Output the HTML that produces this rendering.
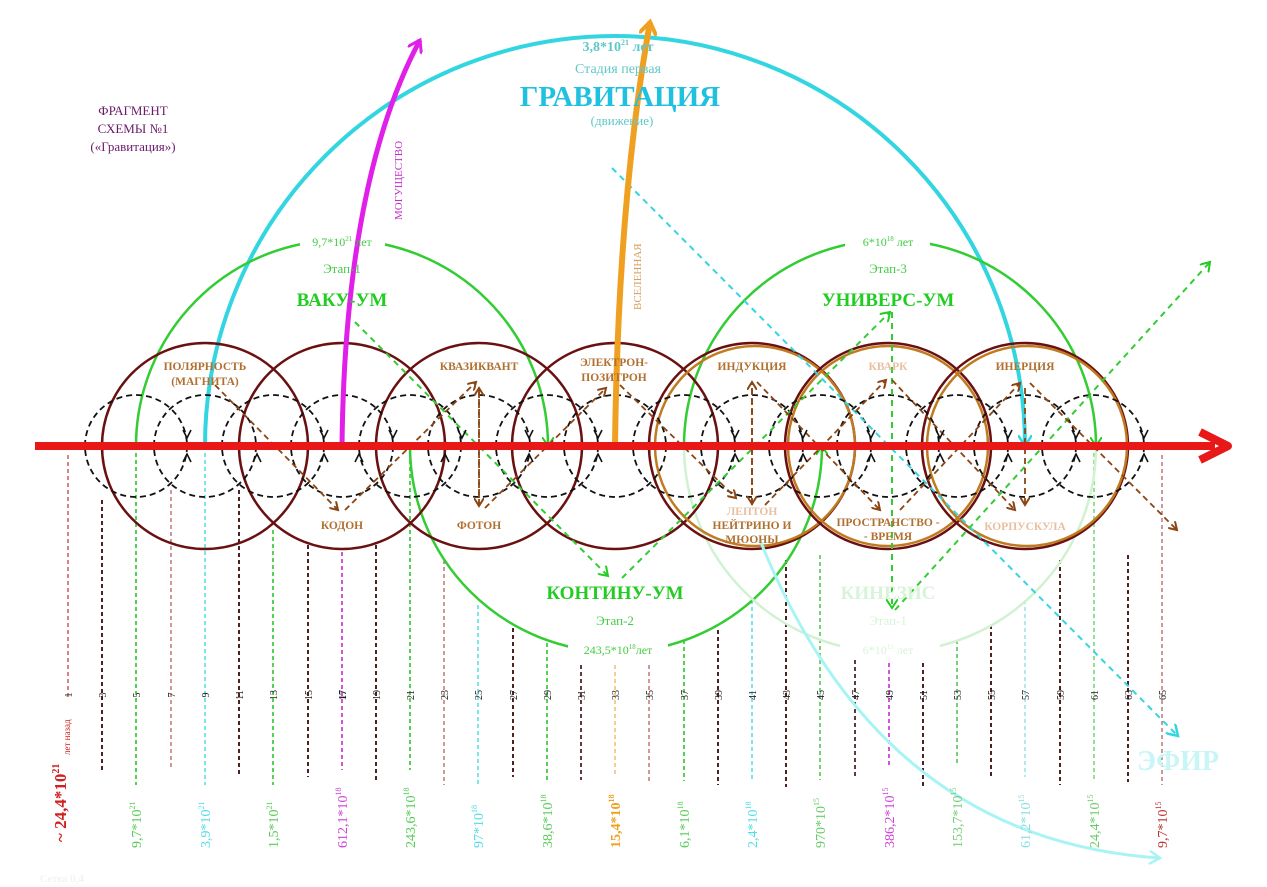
<!DOCTYPE html>
<html><head><meta charset="utf-8">
<style>
html,body{margin:0;padding:0;background:#fff;}
svg{display:block;font-family:"Liberation Serif",serif;}
</style></head>
<body>
<svg width="1267" height="887" viewBox="0 0 1267 887" xmlns="http://www.w3.org/2000/svg">
<defs>
<marker id="ab" markerWidth="10" markerHeight="10" refX="8" refY="5" orient="auto" markerUnits="userSpaceOnUse"><path d="M0,0 L8,5 L0,10" fill="none" stroke="#8b4513" stroke-width="2"/></marker>
<marker id="ag" markerWidth="12" markerHeight="12" refX="9" refY="6" orient="auto" markerUnits="userSpaceOnUse"><path d="M0,0 L9,6 L0,12" fill="none" stroke="#22cc22" stroke-width="2"/></marker>
<marker id="ac" markerWidth="14" markerHeight="14" refX="11" refY="7" orient="auto" markerUnits="userSpaceOnUse"><path d="M0,0 L11,7 L0,14" fill="none" stroke="#33d6e0" stroke-width="2.5"/></marker>
<marker id="apc" markerWidth="14" markerHeight="14" refX="11" refY="7" orient="auto" markerUnits="userSpaceOnUse"><path d="M0,0 L11,7 L0,14" fill="none" stroke="#a8f4f4" stroke-width="2.5"/></marker>
<marker id="am" markerWidth="16" markerHeight="16" refX="12" refY="8" orient="auto" markerUnits="userSpaceOnUse"><path d="M0,0 L12,8 L0,16" fill="none" stroke="#e020e8" stroke-width="3"/></marker>
<marker id="ao" markerWidth="18" markerHeight="18" refX="13" refY="9" orient="auto" markerUnits="userSpaceOnUse"><path d="M0,0 L13,9 L0,18" fill="none" stroke="#f0a020" stroke-width="4"/></marker>
</defs>

<g stroke-dasharray="4,3" fill="none">
<line x1="68" y1="455" x2="68" y2="700" stroke="#c03030" stroke-width="1.2"/>
<line x1="102" y1="500" x2="102" y2="772" stroke="#3a0a0a" stroke-width="1.8"/>
<line x1="136" y1="446" x2="136" y2="785" stroke="#44cc44" stroke-width="1.8"/>
<line x1="171" y1="490" x2="171" y2="770" stroke="#a03030" stroke-width="1"/>
<line x1="205" y1="446" x2="205" y2="785" stroke="#4fdde6" stroke-width="1.5"/>
<line x1="239" y1="490" x2="239" y2="776" stroke="#3a0a0a" stroke-width="1.8"/>
<line x1="273" y1="530" x2="273" y2="785" stroke="#44cc44" stroke-width="1.8"/>
<line x1="308" y1="545" x2="308" y2="777" stroke="#3a0a0a" stroke-width="1.8"/>
<line x1="342" y1="552" x2="342" y2="770" stroke="#d040d8" stroke-width="1.8"/>
<line x1="376" y1="545" x2="376" y2="783" stroke="#3a0a0a" stroke-width="1.8"/>
<line x1="410" y1="446" x2="410" y2="770" stroke="#44cc44" stroke-width="1.8"/>
<line x1="444" y1="560" x2="444" y2="785" stroke="#a03030" stroke-width="1"/>
<line x1="478" y1="605" x2="478" y2="785" stroke="#4fdde6" stroke-width="1.5"/>
<line x1="513" y1="628" x2="513" y2="777" stroke="#3a0a0a" stroke-width="1.8"/>
<line x1="547" y1="643" x2="547" y2="780" stroke="#44cc44" stroke-width="1.8"/>
<line x1="581" y1="665" x2="581" y2="780" stroke="#3a0a0a" stroke-width="1.6"/>
<line x1="615" y1="665" x2="615" y2="776" stroke="#e8b040" stroke-width="1.2"/>
<line x1="649" y1="665" x2="649" y2="784" stroke="#a03030" stroke-width="1"/>
<line x1="684" y1="640" x2="684" y2="781" stroke="#44cc44" stroke-width="1.8"/>
<line x1="718" y1="630" x2="718" y2="785" stroke="#3a0a0a" stroke-width="1.8"/>
<line x1="752" y1="600" x2="752" y2="780" stroke="#4fdde6" stroke-width="1.5"/>
<line x1="786" y1="560" x2="786" y2="787" stroke="#3a0a0a" stroke-width="1.8"/>
<line x1="820" y1="555" x2="820" y2="780" stroke="#66cc66" stroke-width="1.8"/>
<line x1="855" y1="660" x2="855" y2="777" stroke="#3a0a0a" stroke-width="1.6"/>
<line x1="889" y1="663" x2="889" y2="767" stroke="#d040d8" stroke-width="1.8"/>
<line x1="923" y1="663" x2="923" y2="787" stroke="#3a0a0a" stroke-width="1.8"/>
<line x1="957" y1="640" x2="957" y2="766" stroke="#66cc66" stroke-width="1.8"/>
<line x1="991" y1="625" x2="991" y2="777" stroke="#3a0a0a" stroke-width="1.8"/>
<line x1="1025" y1="600" x2="1025" y2="777" stroke="#88dde0" stroke-width="1.3"/>
<line x1="1060" y1="560" x2="1060" y2="785" stroke="#3a0a0a" stroke-width="1.8"/>
<line x1="1094" y1="446" x2="1094" y2="780" stroke="#88dd88" stroke-width="1.8"/>
<line x1="1128" y1="555" x2="1128" y2="782" stroke="#3a0a0a" stroke-width="1.8"/>
<line x1="1162" y1="455" x2="1162" y2="785" stroke="#a03030" stroke-width="1"/>
</g>

<path d="M205,446 A410,410 0 0 1 1025,446" fill="none" stroke="#33d6e0" stroke-width="4" marker-end="url(#ac)"/>

<path d="M136,446 A206,206 0 0 1 548,446" fill="none" stroke="#33cc33" stroke-width="2.5" marker-end="url(#ag)"/>
<path d="M410,446 A206,206 0 0 0 822,446" fill="none" stroke="#33cc33" stroke-width="2.5" marker-end="url(#ag)"/>
<path d="M684,446 A206,206 0 0 1 1096,446" fill="none" stroke="#33cc33" stroke-width="2.5" marker-end="url(#ag)"/>
<path d="M684,446 A206,206 0 0 0 1096,446" fill="none" stroke="#d0f2d0" stroke-width="2.5"/>
<rect x="300" y="228" width="85" height="20" fill="#fff"/>
<rect x="845" y="228" width="85" height="20" fill="#fff"/>
<rect x="568" y="640" width="100" height="20" fill="#fff"/>
<rect x="840" y="640" width="100" height="20" fill="#fff"/>

<g fill="none" stroke-width="2.5">
<circle cx="205" cy="446" r="103" stroke="#6b1010"/>
<circle cx="342" cy="446" r="103" stroke="#6b1010"/>
<circle cx="479" cy="446" r="103" stroke="#6b1010"/>
<circle cx="615" cy="446" r="103" stroke="#6b1010"/>
<circle cx="752" cy="446" r="103" stroke="#6b1010"/>
<circle cx="755" cy="446" r="100" stroke="#c07a20"/>
<circle cx="888" cy="446" r="103" stroke="#6b1010"/>
<circle cx="888" cy="446" r="100" stroke="#c07a20"/>
<circle cx="1025" cy="446" r="103" stroke="#6b1010"/>
<circle cx="1027" cy="446" r="100" stroke="#c07a20"/>
</g>

<g fill="none" stroke="#111" stroke-width="1.8" stroke-dasharray="6,4">
<circle cx="136" cy="446" r="51"/><circle cx="205" cy="446" r="51"/><circle cx="273" cy="446" r="51"/>
<circle cx="342" cy="446" r="51"/><circle cx="410" cy="446" r="51"/><circle cx="479" cy="446" r="51"/>
<circle cx="547" cy="446" r="51"/><circle cx="615" cy="446" r="51"/><circle cx="684" cy="446" r="51"/>
<circle cx="752" cy="446" r="51"/><circle cx="820" cy="446" r="51"/><circle cx="888" cy="446" r="51"/>
<circle cx="957" cy="446" r="51"/><circle cx="1025" cy="446" r="51"/><circle cx="1093" cy="446" r="51"/>
</g>

<g fill="none" stroke-width="2" stroke-dasharray="6,5">
<line x1="612" y1="168" x2="1178" y2="736" stroke="#33d6e0" marker-end="url(#ac)"/>
<line x1="355" y1="322" x2="608" y2="576" stroke="#33cc33" marker-end="url(#ag)"/>
<line x1="622" y1="578" x2="890" y2="312" stroke="#33cc33" marker-end="url(#ag)"/>
<line x1="892" y1="312" x2="892" y2="608" stroke="#33cc33" marker-end="url(#ag)"/>
<line x1="895" y1="610" x2="1210" y2="262" stroke="#33cc33" marker-end="url(#ag)"/>
</g>
<g fill="none" stroke="#8b4513" stroke-width="1.8" stroke-dasharray="6,4">
<line x1="215" y1="385" x2="338" y2="510" marker-end="url(#ab)"/>
<line x1="345" y1="510" x2="476" y2="382" marker-end="url(#ab)"/>
<line x1="479" y1="392" x2="479" y2="506" marker-end="url(#ab)"/>
<line x1="479" y1="505" x2="479" y2="388" marker-end="url(#ab)"/>
<line x1="485" y1="508" x2="606" y2="388" marker-end="url(#ab)"/>
<line x1="620" y1="385" x2="736" y2="498" marker-end="url(#ab)"/>
<line x1="752" y1="388" x2="752" y2="504" marker-end="url(#ab)"/>
<line x1="752" y1="505" x2="752" y2="382" marker-end="url(#ab)"/>
<line x1="757" y1="382" x2="880" y2="510" marker-end="url(#ab)"/>
<line x1="765" y1="505" x2="886" y2="380" marker-end="url(#ab)"/>
<line x1="892" y1="380" x2="1015" y2="510" marker-end="url(#ab)"/>
<line x1="900" y1="510" x2="1020" y2="383" marker-end="url(#ab)"/>
<line x1="1025" y1="388" x2="1025" y2="505" marker-end="url(#ab)"/>
<line x1="1030" y1="383" x2="1177" y2="530" marker-end="url(#ab)"/>
</g>

<path d="M760,540 Q880,840 1160,858" fill="none" stroke="#a8f4f4" stroke-width="3" marker-end="url(#apc)"/>

<path d="M342,446 Q345,180 420,40" fill="none" stroke="#e020e8" stroke-width="5" marker-end="url(#am)"/>
<path d="M615,446 Q618,200 650,22" fill="none" stroke="#f0a020" stroke-width="6" marker-end="url(#ao)"/>

<line x1="35" y1="446" x2="1215" y2="446" stroke="#e81818" stroke-width="8"/>
<path d="M1200,432 L1228,446 L1200,460" fill="none" stroke="#e81818" stroke-width="8" stroke-linejoin="round"/>

<g fill="none" stroke="#111" stroke-width="1.6">
<path d="M183,430 l4,8 l4,-8 M183,462 l4,-8 l4,8"/>
<path d="M253,462 l4,-8 l4,8 M320,430 l4,8 l4,-8 M320,462 l4,-8 l4,8"/>
<path d="M389,430 l4,8 l4,-8 M355,462 l4,-8 l4,8 M458,430 l4,8 l4,-8 M441,462 l4,-8 l4,8"/>
<path d="M525,430 l4,8 l4,-8 M525,462 l4,-8 l4,8 M594,430 l4,8 l4,-8 M594,462 l4,-8 l4,8"/>
<path d="M731,430 l4,8 l4,-8 M731,462 l4,-8 l4,8 M799,430 l4,8 l4,-8 M799,462 l4,-8 l4,8"/>
<path d="M867,430 l4,8 l4,-8 M867,462 l4,-8 l4,8 M936,430 l4,8 l4,-8 M936,462 l4,-8 l4,8"/>
<path d="M1004,430 l4,8 l4,-8 M1004,462 l4,-8 l4,8 M1072,430 l4,8 l4,-8 M1072,462 l4,-8 l4,8"/>
<path d="M1140,430 l4,8 l4,-8 M1140,462 l4,-8 l4,8"/>
</g>

<g text-anchor="middle">
<text x="133" y="115" font-size="13" fill="#6a1a6a">ФРАГМЕНТ</text>
<text x="133" y="133" font-size="13" fill="#6a1a6a">СХЕМЫ №1</text>
<text x="133" y="151" font-size="13" fill="#6a1a6a">(«Гравитация»)</text>
<text x="618" y="51" font-size="14" font-weight="bold" fill="#5fc8c8">3,8*10<tspan font-size="8" dy="-6">21</tspan><tspan dy="6"> лет</tspan></text>
<text x="618" y="73" font-size="14" fill="#5fc8c8">Стадия первая</text>
<text x="620" y="106" font-size="29" font-weight="bold" fill="#20c0e0">ГРАВИТАЦИЯ</text>
<text x="622" y="125" font-size="13" fill="#5fc8c8">(движение)</text>
<text x="342" y="246" font-size="12" fill="#44cc44">9,7*10<tspan font-size="7" dy="-5">21</tspan><tspan dy="5"> лет</tspan></text>
<text x="342" y="273" font-size="13" fill="#44cc44">Этап-1</text>
<text x="342" y="306" font-size="19" font-weight="bold" fill="#22cc22">ВАКУ-УМ</text>
<text x="888" y="246" font-size="12" fill="#44cc44">6*10<tspan font-size="7" dy="-5">18</tspan><tspan dy="5"> лет</tspan></text>
<text x="888" y="273" font-size="13" fill="#44cc44">Этап-3</text>
<text x="888" y="306" font-size="19" font-weight="bold" fill="#22cc22">УНИВЕРС-УМ</text>
<text x="615" y="599" font-size="19" font-weight="bold" fill="#22cc22">КОНТИНУ-УМ</text>
<text x="615" y="625" font-size="13" fill="#44cc44">Этап-2</text>
<text x="618" y="654" font-size="12" fill="#44cc44">243,5*10<tspan font-size="7" dy="-5">18</tspan><tspan dy="5">лет</tspan></text>
<text x="888" y="599" font-size="19" font-weight="bold" fill="#d8f4d8">КИНЕЗИС</text>
<text x="888" y="625" font-size="13" fill="#d8f4d8">Этап-1</text>
<text x="888" y="654" font-size="12" fill="#d8f4d8">6*10<tspan font-size="7" dy="-5">15</tspan><tspan dy="5"> лет</tspan></text>
<text x="1178" y="770" font-size="28" font-weight="bold" fill="#c8f6f6">ЭФИР</text>
<text x="62" y="882" font-size="11" fill="#eeeeee">Сетка 0,4</text>
</g>
<text transform="translate(402,220) rotate(-90)" font-size="11" fill="#c030c8">МОГУЩЕСТВО</text>
<text transform="translate(641,310) rotate(-90)" font-size="11" fill="#d8a060">ВСЕЛЕННАЯ</text>

<g text-anchor="middle" font-size="11.5" font-weight="bold" fill="#b07030">
<text x="205" y="370">ПОЛЯРНОСТЬ</text>
<text x="205" y="385">(МАГНИТА)</text>
<text x="479" y="370">КВАЗИКВАНТ</text>
<text x="614" y="366">ЭЛЕКТРОН-</text>
<text x="614" y="381">ПОЗИТРОН</text>
<text x="752" y="370">ИНДУКЦИЯ</text>
<text x="888" y="370" fill="#e8c0a0">КВАРК</text>
<text x="1025" y="370">ИНЕРЦИЯ</text>
<text x="342" y="529">КОДОН</text>
<text x="479" y="529">ФОТОН</text>
<text x="752" y="515" fill="#e8c0a0">ЛЕПТОН</text>
<text x="752" y="529">НЕЙТРИНО И</text>
<text x="752" y="543">МЮОНЫ</text>
<text x="888" y="526">ПРОСТРАНСТВО -</text>
<text x="888" y="540">- ВРЕМЯ</text>
<text x="1025" y="530" fill="#e8c0a0">КОРПУСКУЛА</text>
</g>

<g font-size="10" fill="#222" text-anchor="middle">
<text transform="translate(72,695) rotate(-90)">1</text>
<text transform="translate(106,695) rotate(-90)">3</text>
<text transform="translate(140,695) rotate(-90)">5</text>
<text transform="translate(175,695) rotate(-90)">7</text>
<text transform="translate(209,695) rotate(-90)">9</text>
<text transform="translate(243,695) rotate(-90)">11</text>
<text transform="translate(277,695) rotate(-90)">13</text>
<text transform="translate(312,695) rotate(-90)">15</text>
<text transform="translate(346,695) rotate(-90)" font-weight="bold">17</text>
<text transform="translate(380,695) rotate(-90)">19</text>
<text transform="translate(414,695) rotate(-90)">21</text>
<text transform="translate(448,695) rotate(-90)">23</text>
<text transform="translate(482,695) rotate(-90)">25</text>
<text transform="translate(517,695) rotate(-90)">27</text>
<text transform="translate(551,695) rotate(-90)">29</text>
<text transform="translate(585,695) rotate(-90)">31</text>
<text transform="translate(619,695) rotate(-90)">33</text>
<text transform="translate(653,695) rotate(-90)">35</text>
<text transform="translate(688,695) rotate(-90)">37</text>
<text transform="translate(722,695) rotate(-90)">39</text>
<text transform="translate(756,695) rotate(-90)">41</text>
<text transform="translate(790,695) rotate(-90)">43</text>
<text transform="translate(824,695) rotate(-90)">45</text>
<text transform="translate(859,695) rotate(-90)">47</text>
<text transform="translate(893,695) rotate(-90)">49</text>
<text transform="translate(927,695) rotate(-90)">51</text>
<text transform="translate(961,695) rotate(-90)">53</text>
<text transform="translate(995,695) rotate(-90)">55</text>
<text transform="translate(1029,695) rotate(-90)">57</text>
<text transform="translate(1064,695) rotate(-90)">59</text>
<text transform="translate(1098,695) rotate(-90)">61</text>
<text transform="translate(1132,695) rotate(-90)">63</text>
<text transform="translate(1166,695) rotate(-90)">65</text>
</g>

<g font-size="14">
<text transform="translate(66,842) rotate(-90)" font-size="17" font-weight="bold" fill="#d02020">~ 24,4*10<tspan font-size="10" dy="-7">21</tspan></text>
<text transform="translate(70,755) rotate(-90)" font-size="9" fill="#d02020">лет назад</text>
<text transform="translate(141,848) rotate(-90)" fill="#55cc55">9,7*10<tspan font-size="8" dy="-6">21</tspan></text>
<text transform="translate(210,848) rotate(-90)" fill="#4fdde6">3,9*10<tspan font-size="8" dy="-6">21</tspan></text>
<text transform="translate(278,848) rotate(-90)" fill="#55cc55">1,5*10<tspan font-size="8" dy="-6">21</tspan></text>
<text transform="translate(347,848) rotate(-90)" fill="#d040d8">612,1*10<tspan font-size="8" dy="-6">18</tspan></text>
<text transform="translate(415,848) rotate(-90)" fill="#55cc55">243,6*10<tspan font-size="8" dy="-6">18</tspan></text>
<text transform="translate(483,848) rotate(-90)" fill="#4fdde6">97*10<tspan font-size="8" dy="-6">18</tspan></text>
<text transform="translate(552,848) rotate(-90)" fill="#55cc55">38,6*10<tspan font-size="8" dy="-6">18</tspan></text>
<text transform="translate(620,848) rotate(-90)" font-weight="bold" fill="#f0a020">15,4*10<tspan font-size="8" dy="-6">18</tspan></text>
<text transform="translate(689,848) rotate(-90)" fill="#55cc55">6,1*10<tspan font-size="8" dy="-6">18</tspan></text>
<text transform="translate(757,848) rotate(-90)" fill="#4fdde6">2,4*10<tspan font-size="8" dy="-6">18</tspan></text>
<text transform="translate(825,848) rotate(-90)" fill="#66cc66">970*10<tspan font-size="8" dy="-6">15</tspan></text>
<text transform="translate(894,848) rotate(-90)" fill="#d040d8">386,2*10<tspan font-size="8" dy="-6">15</tspan></text>
<text transform="translate(962,848) rotate(-90)" fill="#77cc77">153,7*10<tspan font-size="8" dy="-6">15</tspan></text>
<text transform="translate(1030,848) rotate(-90)" fill="#88dde0">61,2*10<tspan font-size="8" dy="-6">15</tspan></text>
<text transform="translate(1099,848) rotate(-90)" fill="#66cc66">24,4*10<tspan font-size="8" dy="-6">15</tspan></text>
<text transform="translate(1167,848) rotate(-90)" fill="#c03030">9,7*10<tspan font-size="8" dy="-6">15</tspan></text>
</g>
</svg>
</body></html>
